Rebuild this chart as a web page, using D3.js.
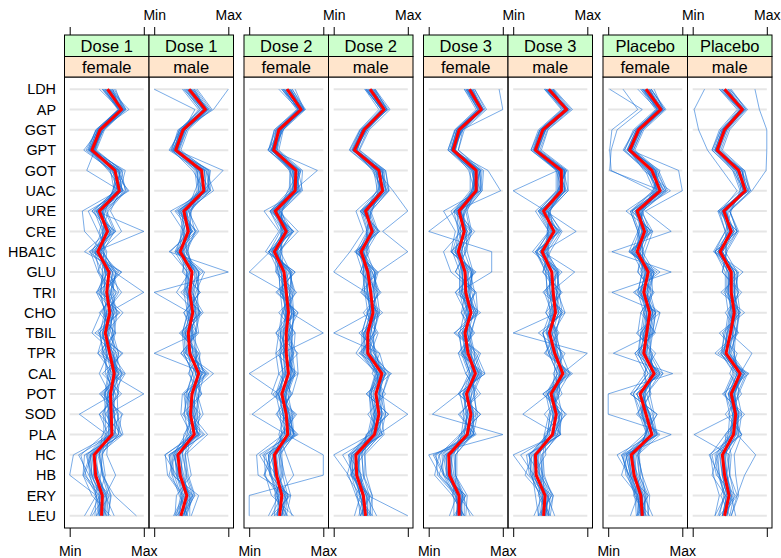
<!DOCTYPE html>
<html>
<head>
<meta charset="utf-8">
<script src="https://cdn.jsdelivr.net/npm/d3@7/dist/d3.min.js"></script>
<style>
  body { margin: 0; background: #fff; }
  text { font-family: "Liberation Sans", Arial, Helvetica, sans-serif; }
</style>
</head>
<body>
<div id="chart"></div>
<script>
// variables, top to bottom
var variables = ["LDH","AP","GGT","GPT","GOT","UAC","URE","CRE","HBA1C","GLU","TRI",
                 "CHO","TBIL","TPR","CAL","POT","SOD","PLA","HC","HB","ERY","LEU"];
var groups = ["Dose 1","Dose 2","Dose 3","Placebo"];
var sexes = ["female","male"];
var tickLabels = ["Min","Max"];

// scaled values (0 = Min, 100 = Max), one string per subject
var meanD1F = [51,70,41,30,61,67,40,51,38,53,50,54,48,54,60,55,56,57,33,35,44,43];
var meanD1M = [47,69,39,29,64,67,40,46,35,51,48,52,46,48,60,51,49,54,32,35,44,36];
var meanD2F = [51,70,40,33,63,62,35,50,34,47,50,53,50,50,53,44,50,52,34,37,44,41];
var meanD2M = [49,68,41,28,61,66,43,52,37,46,50,53,46,46,65,57,61,55,30,31,40,43];
var meanD3F = [55,71,41,33,64,64,41,48,40,49,50,57,49,53,63,51,57,52,27,28,41,41];
var meanD3M = [48,72,40,30,65,65,41,55,39,52,54,57,49,56,67,51,58,53,30,31,43,41];
var meanPF  = [51,71,41,29,59,70,39,49,39,54,48,56,52,48,62,43,51,59,31,35,44,46];
var meanPM  = [43,67,43,33,62,71,42,52,37,52,52,56,51,45,64,52,58,55,40,43,49,43];

var subjD1F = [
  "55 74 44 32 66 70 43 55 40 58 52 60 50 58 66 59 60 62 36 38 48 46",
  "47 66 38 26 58 64 36 47 34 49 46 50 44 50 56 51 52 53 28 30 40 40",
  "60 76 47 36 70 75 48 60 45 62 58 63 57 62 70 64 65 66 42 44 52 50",
  "44 65 36 22 55 60 33 44 30 45 42 47 41 45 52 47 48 49 24 27 36 34",
  "52 72 40 19 57 80 36 100 34 40 55 44 60 48 68 42 58 70 30 20 45 38",
  "58 68 43 33 72 65 17 20 45 60 100 52 38 64 54 100 52 56 5 0 36 40",
  "48 73 39 30 64 58 45 52 20 70 44 66 40 70 50 60 13 50 40 44 60 90",
  "62 72 45 35 60 72 25 38 50 47 38 58 54 42 74 44 70 66 20 18 30 55",
  "40 68 37 28 75 68 42 58 36 55 60 42 30 60 62 66 40 52 50 62 48 30",
  "53 80 41 30 62 60 38 45 42 66 48 58 62 52 40 54 64 72 38 45 55 52",
  "50 70 42 27 52 73 50 62 37 50 70 48 46 38 58 48 60 60 28 30 42 44",
  "57 75 46 31 64 78 44 48 44 56 42 72 48 56 75 58 52 58 44 48 40 42",
  "45 69 40 29 68 62 30 54 28 38 52 55 58 66 62 52 46 46 15 22 36 20",
  "52 71 41 34 23 68 55 70 40 52 36 50 45 50 48 62 58 55 34 35 50 48",
  "49 67 35 25 66 71 41 50 36 58 56 60 52 47 66 50 66 60 32 40 46 45",
  "54 69 43 31 63 66 38 56 42 48 62 56 50 56 64 52 54 54 30 33 42 36",
  "46 66 36 24 56 72 34 60 30 70 36 68 34 72 44 70 40 64 22 30 54 36",
  "58 76 44 34 70 58 48 40 48 38 64 40 62 38 72 40 72 48 44 42 34 50",
  "50 72 46 28 54 66 30 62 26 62 56 46 56 60 52 66 48 70 28 18 40 28",
  "44 68 38 32 66 76 52 44 46 44 42 62 40 46 66 46 62 44 40 46 56 52",
  "56 70 40 27 64 62 36 56 34 58 66 50 52 66 58 60 50 58 12 26 38 44",
  "52 74 42 30 58 70 44 48 42 48 46 58 44 52 70 54 60 66 36 32 48 60",
  "48 66 38 26 68 64 38 54 32 64 54 64 60 44 54 48 54 52 26 28 44 40",
  "54 72 43 33 60 68 46 46 40 50 40 48 50 58 62 58 44 60 32 38 50 46"
];
var subjD1M = [
  "50 72 42 31 68 70 43 50 38 55 52 56 50 52 64 55 53 58 35 38 48 40",
  "43 65 36 26 60 63 36 42 31 47 44 48 42 44 56 47 45 50 28 31 40 33",
  "56 76 46 36 72 75 48 55 42 60 58 60 55 57 68 60 58 62 40 42 52 44",
  "40 63 34 23 57 60 33 40 28 44 40 45 38 40 52 43 41 46 24 27 36 30",
  "0 55 40 30 93 66 35 52 20 100 0 48 58 0 70 40 44 60 20 25 60 50",
  "100 80 38 25 76 72 22 40 45 55 40 62 36 58 52 58 66 48 45 50 30 28",
  "45 68 34 28 55 58 46 60 38 40 62 40 52 44 74 46 40 66 30 32 50 42",
  "52 72 44 32 70 80 42 38 30 58 50 66 42 54 62 60 56 52 15 18 38 32",
  "38 60 37 20 62 64 28 50 40 48 30 56 60 36 58 52 50 72 42 46 55 38",
  "48 74 40 29 66 55 44 44 34 68 56 50 40 60 66 38 36 50 28 30 44 35",
  "54 70 32 24 52 68 50 48 22 45 44 58 48 48 48 56 62 56 34 40 46 40",
  "44 66 42 33 74 76 38 56 44 52 46 44 54 42 80 48 52 44 38 36 42 28",
  "58 78 40 30 58 62 40 36 36 60 60 54 44 50 56 64 46 60 20 24 34 45",
  "46 68 38 27 68 70 32 58 32 50 48 62 46 48 60 50 58 54 32 36 44 36",
  "50 71 41 31 64 66 48 48 46 52 50 46 38 56 62 46 50 42 26 34 52 38",
  "42 62 34 22 70 74 30 56 28 66 36 64 34 60 46 64 38 62 22 26 52 30",
  "54 74 44 34 58 60 50 38 44 38 62 40 58 36 72 40 62 46 42 44 36 44",
  "48 70 42 26 74 72 36 52 30 60 54 48 52 56 56 62 44 68 28 20 40 26",
  "40 66 36 32 60 76 46 40 40 44 42 60 40 42 66 46 56 40 38 44 54 42",
  "52 72 38 28 66 62 34 50 32 56 60 46 50 62 58 56 48 56 14 30 38 34",
  "46 68 40 30 62 68 44 44 38 48 44 56 42 50 70 50 52 60 34 32 48 48",
  "50 70 36 25 68 66 38 50 34 62 52 62 56 40 52 44 46 50 26 34 42 36",
  "44 66 41 31 60 70 42 46 36 50 46 50 48 52 64 54 54 58 30 38 46 40"
];
var subjD2F = [
  "54 73 43 36 67 66 38 54 37 51 54 57 54 54 57 48 54 56 37 40 48 44",
  "47 67 37 30 59 58 32 46 31 43 46 49 46 46 49 40 46 48 31 34 40 38",
  "58 76 46 40 72 70 42 58 42 56 58 60 58 58 62 52 58 60 42 45 52 48",
  "44 64 34 26 55 54 28 42 27 40 42 45 42 42 45 36 42 44 26 29 36 34",
  "50 72 42 30 92 60 30 60 28 0 48 56 100 44 0 40 4 50 100 100 0 0",
  "40 66 44 25 60 70 20 40 22 62 38 66 52 64 66 58 40 66 20 22 30 60",
  "62 74 38 38 68 52 40 66 40 38 56 44 40 36 40 30 62 46 10 12 56 30",
  "52 70 36 32 58 64 44 52 34 55 60 50 58 56 58 50 48 40 50 60 40 50",
  "46 68 40 34 65 58 28 46 30 44 44 60 44 48 50 36 56 58 26 30 48 36",
  "55 75 41 31 62 68 36 56 36 50 52 46 62 60 56 54 46 54 36 38 42 46",
  "48 66 34 28 70 62 38 44 44 46 50 58 48 40 46 42 52 56 32 34 50 40",
  "51 70 46 33 54 66 42 50 26 54 42 62 56 46 60 50 44 62 40 44 36 52",
  "56 72 44 36 56 56 32 48 32 58 44 52 42 52 62 48 38 50 40 42 38 42",
  "44 68 39 35 66 64 40 52 38 42 58 48 54 46 48 38 54 60 28 36 46 38",
  "50 71 42 29 60 60 34 60 40 48 48 54 36 50 54 46 60 44 34 20 44 30",
  "53 69 40 34 64 62 36 48 36 36 52 50 50 58 52 44 50 54 18 36 52 44",
  "46 66 36 26 58 68 28 58 26 62 36 66 36 66 40 58 36 62 22 28 54 34",
  "58 74 44 38 70 56 44 42 44 36 64 40 62 36 66 32 64 44 44 46 34 48",
  "50 72 46 30 56 62 30 60 26 56 56 46 56 58 48 56 44 64 28 20 40 26",
  "44 68 38 36 66 72 44 44 42 40 42 62 42 44 62 38 58 42 42 48 56 50",
  "56 70 40 31 64 58 34 54 32 54 62 50 52 60 50 50 50 56 14 30 38 44",
  "52 74 42 33 60 66 40 48 38 44 46 58 46 48 60 46 54 60 36 34 48 58",
  "48 66 38 30 68 60 36 52 30 58 54 60 58 42 46 40 46 48 26 28 44 38",
  "54 72 43 35 62 64 38 46 36 48 44 50 48 54 56 48 52 54 34 40 50 44"
];
var subjD2M = [
  "52 72 44 31 65 70 46 56 40 50 54 57 50 50 69 61 65 59 33 34 44 46",
  "45 64 38 25 57 62 40 48 34 42 46 49 42 42 61 53 57 51 27 28 36 40",
  "56 76 48 35 70 75 50 60 44 55 58 62 54 54 74 66 70 64 38 40 48 50",
  "42 61 35 21 54 59 36 45 30 39 42 46 38 38 57 50 54 48 22 24 32 36",
  "50 70 40 26 58 80 100 66 100 60 52 50 0 62 70 60 100 60 35 33 46 100",
  "48 66 44 30 64 60 30 40 22 0 44 58 48 30 60 50 56 50 0 20 30 40",
  "54 74 36 24 68 70 48 58 40 52 62 44 60 50 76 66 64 68 42 44 52 48",
  "44 64 42 32 56 64 38 46 34 44 38 60 40 44 58 48 52 46 24 26 36 42",
  "50 68 46 28 62 72 44 54 38 48 50 52 44 56 66 62 70 56 30 30 42 38",
  "46 66 38 27 60 58 42 50 36 46 56 54 50 40 62 54 58 52 28 32 38 44",
  "52 70 40 30 66 68 40 54 42 40 46 50 42 48 68 56 62 58 34 36 40 46",
  "47 67 41 28 52 66 36 62 30 56 40 60 54 36 56 48 50 62 40 22 48 36",
  "55 72 44 29 63 64 46 50 32 50 48 56 46 44 60 58 66 52 26 30 44 42",
  "43 66 39 26 58 66 50 44 48 36 60 46 38 54 70 44 74 46 20 38 34 52",
  "49 68 42 30 70 74 44 52 38 58 50 54 56 46 58 64 54 56 36 24 40 34",
  "44 64 36 22 56 72 36 60 28 60 36 66 34 62 52 70 46 66 20 24 50 36",
  "56 72 46 34 68 60 52 44 46 36 64 40 58 34 78 44 74 44 42 42 30 50",
  "50 70 44 26 54 66 38 62 30 56 56 46 52 56 58 66 54 66 26 18 36 28",
  "42 66 38 32 64 74 50 46 44 40 42 62 40 40 72 50 68 44 38 40 52 52",
  "54 68 40 27 62 62 40 56 34 52 60 50 48 58 62 62 58 58 12 28 36 44",
  "50 72 42 29 58 68 46 50 40 44 46 58 42 48 70 56 64 62 34 32 44 58",
  "46 66 38 25 66 64 42 54 34 56 54 60 54 38 60 50 56 50 24 26 40 40",
  "52 70 43 30 60 68 44 50 38 48 44 50 46 50 66 60 60 54 30 36 46 46"
];
var subjD3F = [
  "58 74 44 36 68 68 44 52 44 53 54 61 53 57 67 55 61 56 30 31 44 44",
  "51 67 38 30 60 60 38 44 36 45 46 53 45 49 59 47 53 48 24 25 38 38",
  "62 78 48 40 74 72 50 56 48 58 58 66 56 62 72 60 66 60 36 36 48 48",
  "48 64 35 26 56 56 34 40 32 42 42 48 42 44 54 42 48 44 18 20 34 34",
  "95 100 45 30 80 97 36 0 85 85 40 60 36 70 58 40 5 100 0 15 40 60",
  "52 70 36 28 60 62 30 44 20 30 62 48 60 44 72 46 60 60 10 12 36 44",
  "58 72 44 36 70 70 46 50 52 60 52 64 44 60 70 58 52 46 30 34 46 40",
  "50 70 40 32 62 58 42 58 38 46 44 52 52 48 56 62 64 56 24 24 42 46",
  "56 72 42 34 66 66 48 46 42 50 56 58 48 56 68 50 56 50 26 30 40 38",
  "54 68 38 31 58 64 38 40 36 54 48 56 50 50 62 48 50 54 32 28 44 42",
  "60 74 43 35 64 60 40 52 44 44 50 62 46 54 60 54 60 52 28 30 40 44",
  "53 70 46 33 72 70 20 36 30 62 36 50 58 40 50 70 40 62 6 20 50 36",
  "57 73 44 34 68 66 44 48 38 52 48 54 52 52 66 52 58 54 22 26 38 40",
  "52 69 40 32 54 62 52 58 50 36 64 66 40 64 76 40 70 42 14 8 32 48",
  "55 71 38 30 65 58 36 62 40 58 50 44 56 46 56 52 46 58 36 36 46 40",
  "50 66 36 26 60 70 34 56 30 64 36 70 34 68 50 66 42 62 14 20 50 34",
  "62 76 46 40 70 58 50 40 50 36 64 44 62 40 76 40 70 44 38 38 32 48",
  "54 72 46 30 58 64 34 58 30 58 56 50 56 58 58 62 50 64 22 14 38 28",
  "48 68 38 36 68 72 48 42 46 42 42 66 40 46 70 46 64 42 34 36 52 50",
  "60 70 40 31 66 60 38 52 36 56 62 54 52 62 60 58 54 56 8 22 36 44",
  "56 74 42 33 62 66 44 48 42 46 46 62 46 50 68 52 60 60 30 26 46 56",
  "52 66 38 30 70 62 40 50 34 60 54 64 58 46 56 46 52 48 20 24 40 38",
  "58 72 43 35 60 66 42 46 40 50 44 54 48 56 64 54 56 54 26 32 46 44"
];
var subjD3M = [
  "51 75 43 33 69 69 44 59 42 56 58 61 53 60 71 55 62 57 33 34 46 44",
  "45 68 37 27 61 61 38 51 36 48 50 53 45 52 63 47 54 49 27 28 40 38",
  "55 80 47 38 74 74 48 64 46 60 62 66 56 65 76 60 66 62 38 38 50 48",
  "42 65 34 24 58 58 34 48 32 44 46 50 40 48 60 44 50 46 22 24 36 34",
  "50 70 40 28 60 0 44 85 40 83 50 60 0 100 66 48 13 60 0 20 46 44",
  "44 74 42 30 68 66 36 50 30 48 60 54 52 52 72 56 56 46 34 36 40 36",
  "52 72 38 32 64 70 46 60 44 58 52 62 46 60 64 50 64 56 28 30 48 42",
  "46 70 40 29 70 62 42 52 38 46 56 58 50 54 68 54 58 52 30 32 42 40",
  "50 74 42 31 62 64 40 56 40 54 52 56 48 58 66 52 60 54 32 30 44 42",
  "54 70 36 28 60 70 48 46 44 62 44 66 40 50 76 40 66 60 40 42 52 36",
  "44 74 44 33 72 60 34 62 30 44 64 48 58 64 58 60 50 46 22 24 36 50",
  "47 73 39 29 64 64 40 56 38 53 53 58 48 57 66 52 59 52 29 30 44 40",
  "53 76 44 34 70 70 46 66 50 40 60 70 54 44 80 46 62 64 20 36 54 46",
  "43 68 36 26 60 60 30 48 26 60 42 52 44 66 62 62 48 42 44 26 30 34",
  "48 72 40 30 64 66 50 54 38 52 54 44 60 56 56 52 70 54 30 40 42 48",
  "44 66 36 24 60 72 34 64 30 66 40 70 34 70 54 66 42 64 18 22 52 34",
  "54 78 46 36 72 60 50 46 48 40 66 44 62 42 78 40 72 44 40 40 34 48",
  "50 74 44 28 58 66 36 62 32 60 60 50 56 60 62 62 52 64 26 16 40 28",
  "42 70 38 34 68 74 48 48 46 44 46 66 40 48 74 46 64 42 36 40 54 50",
  "52 72 40 30 66 62 38 58 36 58 64 54 52 64 64 58 54 56 10 28 38 44",
  "48 76 42 31 62 68 44 54 42 48 50 62 46 54 70 52 62 60 32 30 46 56",
  "46 70 38 28 70 62 40 56 36 62 58 64 58 48 60 46 54 48 24 26 42 38",
  "50 72 43 32 62 66 42 52 40 52 48 54 48 58 68 54 58 54 30 36 48 44"
];
var subjPF = [
  "54 74 44 32 63 74 42 53 42 58 52 60 56 52 66 47 55 63 34 38 48 50",
  "47 67 38 26 55 66 36 45 36 50 44 52 48 44 58 39 47 55 28 32 40 42",
  "58 78 48 36 68 80 46 56 46 62 56 64 60 56 70 52 60 66 38 42 52 54",
  "44 64 34 22 50 62 32 42 32 46 40 48 44 40 54 34 42 52 22 26 36 38",
  "20 40 5 2 4 60 30 40 40 48 50 60 48 50 60 44 50 60 26 32 46 48",
  "58 76 42 30 95 100 50 85 5 85 5 70 62 7 87 0 0 85 20 24 40 44",
  "48 68 36 20 52 70 30 40 44 40 60 44 40 60 56 56 62 50 40 46 50 50",
  "62 74 46 34 64 64 44 60 30 60 42 62 58 44 70 38 56 66 24 30 38 40",
  "46 70 40 28 60 76 38 46 46 50 54 50 46 52 50 50 44 56 34 36 46 46",
  "55 72 44 32 56 66 40 52 38 56 46 58 54 46 64 42 54 60 30 34 44 48",
  "40 66 38 26 62 72 36 50 34 52 48 56 52 48 62 44 48 58 32 35 42 44",
  "52 71 41 29 70 60 46 40 28 66 36 64 44 58 74 52 40 70 40 42 54 40",
  "56 74 42 31 66 78 42 54 42 60 50 60 56 50 66 46 56 62 36 38 46 48",
  "48 68 40 27 54 64 24 60 50 44 58 48 62 36 50 30 66 48 18 28 36 56",
  "51 70 41 29 48 84 39 50 40 54 48 56 52 48 62 44 50 58 32 34 44 46",
  "2 46 12 4 2 72 44 46 36 58 44 54 50 42 58 48 46 52 28 30 40 44",
  "46 66 36 22 54 76 32 58 30 70 34 70 38 64 48 58 38 68 18 28 54 38",
  "58 76 46 34 66 62 48 40 48 40 62 44 64 36 74 30 66 50 42 44 34 52",
  "50 72 46 26 52 68 32 58 28 62 54 48 58 56 58 56 44 66 26 18 40 30",
  "44 68 38 32 64 78 46 42 46 46 40 64 44 42 70 38 58 50 40 46 56 54",
  "56 70 40 27 62 66 36 54 34 58 60 52 54 58 60 50 50 60 12 28 38 46",
  "52 74 42 30 56 72 42 48 42 50 44 60 48 50 68 44 56 64 34 34 48 60",
  "48 66 38 25 64 68 38 52 32 62 52 64 60 40 54 34 46 54 24 30 42 40",
  "54 72 43 31 58 70 40 46 40 52 42 52 50 54 64 48 52 58 30 40 50 48"
];
var subjPM = [
  "46 70 46 36 66 74 45 56 40 56 56 60 55 49 68 56 62 59 43 46 52 46",
  "40 64 40 30 58 68 39 48 34 48 48 52 47 41 60 48 54 51 37 40 46 40",
  "50 74 50 40 70 78 50 60 44 60 60 64 58 52 72 60 66 62 48 50 56 50",
  "36 60 36 26 54 64 34 44 30 44 44 48 44 38 56 44 50 48 32 36 42 36",
  "16 2 8 20 40 60 38 50 30 48 52 50 46 42 60 48 56 2 50 46 50 44",
  "84 90 100 100 99 80 50 60 40 56 56 62 60 50 70 56 62 60 85 70 60 40",
  "44 68 42 32 60 70 40 54 38 50 50 56 50 80 64 50 56 52 30 34 44 34",
  "40 66 44 34 64 72 44 52 36 54 54 58 52 44 66 54 60 56 42 44 50 44",
  "44 66 42 31 62 70 42 50 38 52 52 56 50 44 62 52 58 54 40 42 48 42",
  "48 70 46 35 66 74 44 56 40 56 56 58 54 48 68 54 60 58 44 46 52 46",
  "38 64 40 30 58 68 40 48 34 48 48 54 48 42 60 50 56 52 36 40 46 40",
  "42 67 43 33 56 66 50 62 46 40 62 48 60 30 74 62 48 66 56 58 62 52",
  "52 72 38 28 70 76 36 44 28 60 42 64 40 56 54 42 66 44 24 28 36 30",
  "38 62 38 26 58 76 34 60 30 68 38 70 36 60 50 66 44 66 26 32 58 36",
  "50 72 48 38 68 64 52 44 46 40 66 44 62 34 76 40 70 46 52 50 38 50",
  "44 68 46 30 54 70 36 60 30 60 58 50 58 56 60 62 54 66 34 26 44 30",
  "36 64 40 36 66 78 48 46 44 46 46 64 42 40 70 48 64 44 46 50 60 52",
  "48 66 42 32 64 68 40 56 34 56 62 52 54 56 62 58 56 58 22 36 44 44",
  "44 70 44 34 60 72 46 50 40 50 48 60 46 46 70 54 60 62 42 40 52 58",
  "40 64 40 30 68 70 40 54 34 62 56 62 58 38 58 44 54 50 34 36 48 40",
  "46 68 43 34 60 72 44 50 38 52 46 54 50 50 66 56 58 56 40 46 54 46"
];

var panelData = [
  {group: groups[0], sex: sexes[0], mean: meanD1F, subj: subjD1F},
  {group: groups[0], sex: sexes[1], mean: meanD1M, subj: subjD1M},
  {group: groups[1], sex: sexes[0], mean: meanD2F, subj: subjD2F},
  {group: groups[1], sex: sexes[1], mean: meanD2M, subj: subjD2M},
  {group: groups[2], sex: sexes[0], mean: meanD3F, subj: subjD3F},
  {group: groups[2], sex: sexes[1], mean: meanD3M, subj: subjD3M},
  {group: groups[3], sex: sexes[0], mean: meanPF,  subj: subjPF},
  {group: groups[3], sex: sexes[1], mean: meanPM,  subj: subjPM}
];

// layout
var W = 781, H = 558;
var panelTop = 77, panelBottom = 528;
var stripTop = 35, stripMid = 56.5;
var firstLeft = 64.5, groupStep = 179.5, panelW = 84.5;

var svg = d3.select("#chart").append("svg")
    .attr("width", W)
    .attr("height", H);

// shared y scale: LDH on top, LEU at bottom
var y = d3.scaleLinear()
    .domain([-0.6, variables.length - 0.4])
    .range([panelTop, panelBottom]);

// y labels
svg.append("g").selectAll("text")
    .data(variables)
    .enter().append("text")
    .attr("x", 56)
    .attr("y", function(d, i) { return y(i); })
    .attr("dy", "0.36em")
    .attr("text-anchor", "end")
    .style("font-size", "14.4px")
    .text(function(d) { return d; });

panelData.forEach(function(p, k) {
  var g = Math.floor(k / 2), c = k % 2;
  var left = firstLeft + g * groupStep + c * panelW;
  var pad = panelW * 0.07 / 1.14;
  var x = d3.scaleLinear().domain([0, 100]).range([left + pad, left + panelW - pad]);

  var panel = svg.append("g");

  // reference lines
  panel.selectAll(".ref")
    .data(variables)
    .enter().append("line")
    .attr("x1", x(0)).attr("x2", x(100))
    .attr("y1", function(d, i) { return y(i); })
    .attr("y2", function(d, i) { return y(i); })
    .attr("stroke", "#e6e6e6")
    .attr("stroke-width", 2);

  var line = d3.line()
      .x(function(d) { return x(d); })
      .y(function(d, i) { return y(i); });

  var rows = p.subj.map(function(s) { return s.split(" ").map(Number); });

  panel.selectAll(".subj")
    .data(rows)
    .enter().append("path")
    .attr("d", line)
    .attr("fill", "none")
    .attr("stroke", "#1a70d6")
    .attr("stroke-opacity", 0.58)
    .attr("stroke-width", 1);

  panel.append("path")
    .datum(p.mean)
    .attr("d", line)
    .attr("fill", "none")
    .attr("stroke", "#ff0000")
    .attr("stroke-width", 3)
    .attr("stroke-linejoin", "round");

  // border
  panel.append("rect")
    .attr("x", left).attr("y", panelTop)
    .attr("width", panelW).attr("height", panelBottom - panelTop)
    .attr("fill", "none").attr("stroke", "#000").attr("stroke-width", 1);

  // strips
  panel.append("rect")
    .attr("x", left).attr("y", stripTop)
    .attr("width", panelW).attr("height", stripMid - stripTop)
    .attr("fill", "#ccffcc").attr("stroke", "#000");
  panel.append("rect")
    .attr("x", left).attr("y", stripMid)
    .attr("width", panelW).attr("height", panelTop - stripMid)
    .attr("fill", "#ffe5cc").attr("stroke", "#000");
  panel.append("text")
    .attr("x", left + panelW / 2).attr("y", (stripTop + stripMid) / 2)
    .attr("dy", "0.36em").attr("text-anchor", "middle")
    .style("font-size", "16.5px")
    .text(p.group);
  panel.append("text")
    .attr("x", left + panelW / 2).attr("y", (stripMid + panelTop) / 2)
    .attr("dy", "0.36em").attr("text-anchor", "middle")
    .style("font-size", "16.5px")
    .text(p.sex);

  // axes: labels bottom for first column, top for second
  var fmt = function(d) { return d === 0 ? tickLabels[0] : tickLabels[1]; };
  var bottom = d3.axisBottom(x).tickValues([0, 100]).tickSize(9).tickPadding(9)
      .tickSizeOuter(0).tickFormat(c === 0 ? fmt : function() { return ""; });
  var top = d3.axisTop(x).tickValues([0, 100]).tickSize(8).tickPadding(7)
      .tickSizeOuter(0).tickFormat(c === 1 ? fmt : function() { return ""; });

  var gb = svg.append("g").attr("transform", "translate(0," + panelBottom + ")").call(bottom);
  var gt = svg.append("g").attr("transform", "translate(0," + stripTop + ")").call(top);
  [gb, gt].forEach(function(a) {
    a.select(".domain").remove();
    a.selectAll("text").style("font-size", "14px").attr("fill", "#000")
      .style("font-family", '"Liberation Sans", Arial, sans-serif');
    a.selectAll("line").attr("stroke", "#000");
  });
});
</script>
</body>
</html>
